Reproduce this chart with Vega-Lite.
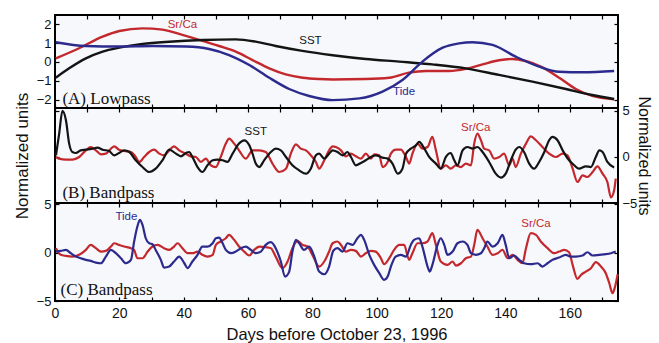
{
  "$schema": "https://vega.github.io/schema/vega-lite/v6.json",
  "padding": {"left": 12, "top": 13, "right": 2, "bottom": 0},
  "background": "white",
  "spacing": 0,
  "bounds": "flush",
  "config": {
    "concat": {"spacing": 0},
    "view": {"stroke": "#000", "strokeWidth": 2, "fill": "#f6f8fc"},
    "font": "Liberation Sans",
    "axis": {"domain": false, "grid": false, "tickColor": "#000", "tickSize": 4, "offset": -4, "tickWidth": 1.2, "labelFont": "Liberation Sans", "labelFontSize": 13, "labelColor": "#111", "labelPadding": 4, "titleFont": "Liberation Sans", "titleFontWeight": "normal", "titleColor": "#111", "labelFlush": false, "minExtent": 0}
  },
  "datasets": {
    "A": [
      {"d":0.25,"v":0.19,"s":"Sr/Ca"},{"d":7.5,"v":0.73,"s":"Sr/Ca"},{"d":14.8,"v":1.35,"s":"Sr/Ca"},{"d":20,"v":1.65,"s":"Sr/Ca"},{"d":27.2,"v":1.79,"s":"Sr/Ca"},{"d":33.4,"v":1.72,"s":"Sr/Ca"},{"d":39.6,"v":1.44,"s":"Sr/Ca"},{"d":45.9,"v":1.12,"s":"Sr/Ca"},{"d":51,"v":0.85,"s":"Sr/Ca"},{"d":56.2,"v":0.55,"s":"Sr/Ca"},{"d":61.4,"v":0.1,"s":"Sr/Ca"},{"d":66.6,"v":-0.34,"s":"Sr/Ca"},{"d":71.7,"v":-0.66,"s":"Sr/Ca"},{"d":77,"v":-0.84,"s":"Sr/Ca"},{"d":82,"v":-0.91,"s":"Sr/Ca"},{"d":86.3,"v":-0.93,"s":"Sr/Ca"},{"d":96.6,"v":-0.91,"s":"Sr/Ca"},{"d":103.9,"v":-0.84,"s":"Sr/Ca"},{"d":110,"v":-0.57,"s":"Sr/Ca"},{"d":115.3,"v":-0.48,"s":"Sr/Ca"},{"d":122.5,"v":-0.48,"s":"Sr/Ca"},{"d":127.7,"v":-0.37,"s":"Sr/Ca"},{"d":132.9,"v":-0.13,"s":"Sr/Ca"},{"d":138,"v":0.09,"s":"Sr/Ca"},{"d":142.2,"v":0.16,"s":"Sr/Ca"},{"d":146.3,"v":0.05,"s":"Sr/Ca"},{"d":151.5,"v":-0.29,"s":"Sr/Ca"},{"d":156.7,"v":-0.84,"s":"Sr/Ca"},{"d":161.9,"v":-1.44,"s":"Sr/Ca"},{"d":167,"v":-1.81,"s":"Sr/Ca"},{"d":173.8,"v":-1.99,"s":"Sr/Ca"},
      {"d":0.25,"v":-0.84,"s":"SST"},{"d":4.4,"v":-0.34,"s":"SST"},{"d":9.6,"v":0.19,"s":"SST"},{"d":14.8,"v":0.55,"s":"SST"},{"d":20,"v":0.76,"s":"SST"},{"d":27.2,"v":0.96,"s":"SST"},{"d":35.5,"v":1.08,"s":"SST"},{"d":45.9,"v":1.17,"s":"SST"},{"d":56.2,"v":1.2,"s":"SST"},{"d":62.4,"v":1.08,"s":"SST"},{"d":68.6,"v":0.85,"s":"SST"},{"d":76.9,"v":0.59,"s":"SST"},{"d":86.3,"v":0.36,"s":"SST"},{"d":96.6,"v":0.16,"s":"SST"},{"d":107,"v":0.02,"s":"SST"},{"d":117.3,"v":-0.13,"s":"SST"},{"d":127.7,"v":-0.34,"s":"SST"},{"d":138,"v":-0.69,"s":"SST"},{"d":148.4,"v":-1.05,"s":"SST"},{"d":158.8,"v":-1.44,"s":"SST"},{"d":167,"v":-1.76,"s":"SST"},{"d":173.8,"v":-1.97,"s":"SST"},
      {"d":0.25,"v":1.05,"s":"Tide"},{"d":9.6,"v":0.85,"s":"Tide"},{"d":20,"v":0.82,"s":"Tide"},{"d":30.3,"v":0.85,"s":"Tide"},{"d":40.7,"v":0.82,"s":"Tide"},{"d":47.9,"v":0.69,"s":"Tide"},{"d":54.1,"v":0.37,"s":"Tide"},{"d":60.4,"v":-0.16,"s":"Tide"},{"d":66.6,"v":-0.84,"s":"Tide"},{"d":72.8,"v":-1.44,"s":"Tide"},{"d":79,"v":-1.81,"s":"Tide"},{"d":86.3,"v":-2.03,"s":"Tide"},{"d":94.6,"v":-1.94,"s":"Tide"},{"d":101.8,"v":-1.58,"s":"Tide"},{"d":108,"v":-0.96,"s":"Tide"},{"d":114.2,"v":0.02,"s":"Tide"},{"d":120.5,"v":0.76,"s":"Tide"},{"d":125.6,"v":0.99,"s":"Tide"},{"d":129.8,"v":1.05,"s":"Tide"},{"d":136,"v":0.91,"s":"Tide"},{"d":143.2,"v":0.28,"s":"Tide"},{"d":150.5,"v":-0.25,"s":"Tide"},{"d":156.7,"v":-0.52,"s":"Tide"},{"d":164,"v":-0.55,"s":"Tide"},{"d":173.8,"v":-0.48,"s":"Tide"}
    ],
    "B": [
      {"d":0.3,"v":-0.01,"s":"Sr/Ca"},{"d":1.3,"v":-0.19,"s":"Sr/Ca"},{"d":3.4,"v":-0.3,"s":"Sr/Ca"},{"d":5.4,"v":-0.3,"s":"Sr/Ca"},{"d":7.5,"v":-0.01,"s":"Sr/Ca"},{"d":9.6,"v":0.71,"s":"Sr/Ca"},{"d":11.1,"v":1.07,"s":"Sr/Ca"},{"d":12.7,"v":0.71,"s":"Sr/Ca"},{"d":14.3,"v":0.28,"s":"Sr/Ca"},{"d":15.8,"v":0.35,"s":"Sr/Ca"},{"d":17.4,"v":0.89,"s":"Sr/Ca"},{"d":18.4,"v":1.15,"s":"Sr/Ca"},{"d":19.9,"v":0.78,"s":"Sr/Ca"},{"d":21.5,"v":0.64,"s":"Sr/Ca"},{"d":23.6,"v":0.53,"s":"Sr/Ca"},{"d":25.1,"v":-0.01,"s":"Sr/Ca"},{"d":26.2,"v":-0.55,"s":"Sr/Ca"},{"d":27.7,"v":-0.01,"s":"Sr/Ca"},{"d":29.3,"v":0.53,"s":"Sr/Ca"},{"d":30.8,"v":0.78,"s":"Sr/Ca"},{"d":32.4,"v":0.35,"s":"Sr/Ca"},{"d":33.9,"v":0.17,"s":"Sr/Ca"},{"d":35.5,"v":0.71,"s":"Sr/Ca"},{"d":37,"v":1.15,"s":"Sr/Ca"},{"d":38.6,"v":0.71,"s":"Sr/Ca"},{"d":40.7,"v":0.35,"s":"Sr/Ca"},{"d":42.2,"v":0.06,"s":"Sr/Ca"},{"d":43.8,"v":-0.01,"s":"Sr/Ca"},{"d":45.3,"v":-0.55,"s":"Sr/Ca"},{"d":46.9,"v":-0.19,"s":"Sr/Ca"},{"d":48.4,"v":-0.91,"s":"Sr/Ca"},{"d":50,"v":-1.1,"s":"Sr/Ca"},{"d":51.5,"v":-0.01,"s":"Sr/Ca"},{"d":53.1,"v":1.44,"s":"Sr/Ca"},{"d":54.1,"v":1.98,"s":"Sr/Ca"},{"d":55.7,"v":1.44,"s":"Sr/Ca"},{"d":57.2,"v":0.71,"s":"Sr/Ca"},{"d":59.3,"v":-0.19,"s":"Sr/Ca"},{"d":61.4,"v":0.71,"s":"Sr/Ca"},{"d":63.5,"v":0.71,"s":"Sr/Ca"},{"d":65.5,"v":0.53,"s":"Sr/Ca"},{"d":67.6,"v":-0.73,"s":"Sr/Ca"},{"d":69.7,"v":-1.64,"s":"Sr/Ca"},{"d":71.8,"v":-1.28,"s":"Sr/Ca"},{"d":73.3,"v":0.35,"s":"Sr/Ca"},{"d":74.9,"v":1.36,"s":"Sr/Ca"},{"d":76.4,"v":0.89,"s":"Sr/Ca"},{"d":78,"v":0.71,"s":"Sr/Ca"},{"d":79.5,"v":0.17,"s":"Sr/Ca"},{"d":81.1,"v":-0.55,"s":"Sr/Ca"},{"d":82.1,"v":-1.28,"s":"Sr/Ca"},{"d":83.7,"v":-0.37,"s":"Sr/Ca"},{"d":85.2,"v":0.71,"s":"Sr/Ca"},{"d":86.3,"v":1.15,"s":"Sr/Ca"},{"d":87.3,"v":1.07,"s":"Sr/Ca"},{"d":88.9,"v":0.71,"s":"Sr/Ca"},{"d":90.4,"v":0.06,"s":"Sr/Ca"},{"d":92,"v":0.35,"s":"Sr/Ca"},{"d":93.5,"v":0.06,"s":"Sr/Ca"},{"d":95.1,"v":-0.19,"s":"Sr/Ca"},{"d":96.6,"v":0.35,"s":"Sr/Ca"},{"d":98.2,"v":-0.19,"s":"Sr/Ca"},{"d":99.2,"v":0.28,"s":"Sr/Ca"},{"d":100.8,"v":0.17,"s":"Sr/Ca"},{"d":101.8,"v":-1.1,"s":"Sr/Ca"},{"d":103.4,"v":-0.55,"s":"Sr/Ca"},{"d":104.4,"v":0.35,"s":"Sr/Ca"},{"d":106,"v":0.78,"s":"Sr/Ca"},{"d":107.5,"v":0.78,"s":"Sr/Ca"},{"d":109.1,"v":-0.01,"s":"Sr/Ca"},{"d":110.1,"v":-0.73,"s":"Sr/Ca"},{"d":111.1,"v":0.35,"s":"Sr/Ca"},{"d":112.7,"v":1.44,"s":"Sr/Ca"},{"d":114.2,"v":0.89,"s":"Sr/Ca"},{"d":115.8,"v":1.07,"s":"Sr/Ca"},{"d":117.3,"v":2.16,"s":"Sr/Ca"},{"d":118.4,"v":0.71,"s":"Sr/Ca"},{"d":119.9,"v":-1.28,"s":"Sr/Ca"},{"d":121.5,"v":-0.91,"s":"Sr/Ca"},{"d":123,"v":-1.28,"s":"Sr/Ca"},{"d":124.6,"v":-0.91,"s":"Sr/Ca"},{"d":126.2,"v":-1.1,"s":"Sr/Ca"},{"d":127.7,"v":-0.73,"s":"Sr/Ca"},{"d":129.3,"v":-0.91,"s":"Sr/Ca"},{"d":130.3,"v":1.44,"s":"Sr/Ca"},{"d":131.3,"v":2.52,"s":"Sr/Ca"},{"d":132.4,"v":1.8,"s":"Sr/Ca"},{"d":133.4,"v":0.89,"s":"Sr/Ca"},{"d":134.95,"v":0.71,"s":"Sr/Ca"},{"d":136.5,"v":-0.19,"s":"Sr/Ca"},{"d":138.1,"v":-0.01,"s":"Sr/Ca"},{"d":139.6,"v":0.35,"s":"Sr/Ca"},{"d":141.2,"v":-0.91,"s":"Sr/Ca"},{"d":142.2,"v":-0.19,"s":"Sr/Ca"},{"d":143.2,"v":-1.1,"s":"Sr/Ca"},{"d":144.8,"v":0.35,"s":"Sr/Ca"},{"d":146.4,"v":1.44,"s":"Sr/Ca"},{"d":147.9,"v":2.23,"s":"Sr/Ca"},{"d":149.5,"v":1.8,"s":"Sr/Ca"},{"d":151.5,"v":1.07,"s":"Sr/Ca"},{"d":153.6,"v":0.35,"s":"Sr/Ca"},{"d":155.7,"v":-0.01,"s":"Sr/Ca"},{"d":157.8,"v":0.35,"s":"Sr/Ca"},{"d":159.3,"v":0.17,"s":"Sr/Ca"},{"d":160.9,"v":-1.28,"s":"Sr/Ca"},{"d":162.4,"v":-2.72,"s":"Sr/Ca"},{"d":164,"v":-2.0,"s":"Sr/Ca"},{"d":165.5,"v":-2.18,"s":"Sr/Ca"},{"d":167.1,"v":-1.64,"s":"Sr/Ca"},{"d":168.6,"v":-1.02,"s":"Sr/Ca"},{"d":170.2,"v":-1.82,"s":"Sr/Ca"},{"d":171.7,"v":-2.72,"s":"Sr/Ca"},{"d":172.8,"v":-4.4,"s":"Sr/Ca"},{"d":173.8,"v":-3.63,"s":"Sr/Ca"},{"d":174.3,"v":-2.36,"s":"Sr/Ca"},
      {"d":0.3,"v":0.17,"s":"SST"},{"d":1.3,"v":2.52,"s":"SST"},{"d":2.3,"v":4.98,"s":"SST"},{"d":3.4,"v":3.97,"s":"SST"},{"d":4.4,"v":1.44,"s":"SST"},{"d":5.4,"v":0.53,"s":"SST"},{"d":6.5,"v":0.42,"s":"SST"},{"d":8,"v":0.71,"s":"SST"},{"d":9.6,"v":0.78,"s":"SST"},{"d":11.7,"v":0.89,"s":"SST"},{"d":13.2,"v":1.0,"s":"SST"},{"d":14.8,"v":0.78,"s":"SST"},{"d":16.8,"v":0.64,"s":"SST"},{"d":18.4,"v":0.17,"s":"SST"},{"d":19.9,"v":0.42,"s":"SST"},{"d":21.5,"v":0.71,"s":"SST"},{"d":23.1,"v":0.53,"s":"SST"},{"d":25.1,"v":-0.37,"s":"SST"},{"d":27.2,"v":-1.1,"s":"SST"},{"d":29.3,"v":-1.64,"s":"SST"},{"d":31.3,"v":-1.28,"s":"SST"},{"d":33.4,"v":-0.37,"s":"SST"},{"d":35.5,"v":0.78,"s":"SST"},{"d":37.6,"v":0.35,"s":"SST"},{"d":39.1,"v":0.06,"s":"SST"},{"d":40.7,"v":0.42,"s":"SST"},{"d":41.7,"v":0.53,"s":"SST"},{"d":42.7,"v":-0.01,"s":"SST"},{"d":44.3,"v":-1.1,"s":"SST"},{"d":45.8,"v":-1.64,"s":"SST"},{"d":47.4,"v":-0.91,"s":"SST"},{"d":49,"v":-0.37,"s":"SST"},{"d":50.5,"v":-0.3,"s":"SST"},{"d":52.1,"v":-0.37,"s":"SST"},{"d":53.6,"v":-0.55,"s":"SST"},{"d":55.2,"v":0.35,"s":"SST"},{"d":57.2,"v":1.44,"s":"SST"},{"d":58.8,"v":1.8,"s":"SST"},{"d":60.4,"v":1.25,"s":"SST"},{"d":61.4,"v":0.35,"s":"SST"},{"d":62.4,"v":-0.73,"s":"SST"},{"d":63.5,"v":-1.1,"s":"SST"},{"d":65,"v":-0.37,"s":"SST"},{"d":67.1,"v":0.53,"s":"SST"},{"d":68.6,"v":0.89,"s":"SST"},{"d":70.2,"v":0.71,"s":"SST"},{"d":71.8,"v":-0.01,"s":"SST"},{"d":73.8,"v":-0.91,"s":"SST"},{"d":75.9,"v":-1.46,"s":"SST"},{"d":78,"v":-1.82,"s":"SST"},{"d":79.5,"v":-1.28,"s":"SST"},{"d":81.1,"v":0.17,"s":"SST"},{"d":82.1,"v":0.35,"s":"SST"},{"d":83.7,"v":-0.19,"s":"SST"},{"d":85.2,"v":0.35,"s":"SST"},{"d":86.3,"v":0.71,"s":"SST"},{"d":87.8,"v":0.53,"s":"SST"},{"d":89.4,"v":0.17,"s":"SST"},{"d":90.9,"v":0.53,"s":"SST"},{"d":92,"v":-0.01,"s":"SST"},{"d":93.5,"v":-0.91,"s":"SST"},{"d":95.1,"v":-0.66,"s":"SST"},{"d":96.6,"v":-0.37,"s":"SST"},{"d":98.2,"v":-0.01,"s":"SST"},{"d":99.7,"v":0.17,"s":"SST"},{"d":101.8,"v":-0.08,"s":"SST"},{"d":103.4,"v":-0.19,"s":"SST"},{"d":104.9,"v":-0.73,"s":"SST"},{"d":106.5,"v":-1.82,"s":"SST"},{"d":108,"v":-1.28,"s":"SST"},{"d":109.1,"v":0.35,"s":"SST"},{"d":110.6,"v":0.89,"s":"SST"},{"d":112.2,"v":1.25,"s":"SST"},{"d":113.2,"v":1.62,"s":"SST"},{"d":114.8,"v":0.89,"s":"SST"},{"d":116.3,"v":-0.01,"s":"SST"},{"d":118.4,"v":-0.73,"s":"SST"},{"d":119.9,"v":-1.28,"s":"SST"},{"d":121.5,"v":-0.01,"s":"SST"},{"d":123,"v":0.42,"s":"SST"},{"d":124.1,"v":-0.37,"s":"SST"},{"d":125.1,"v":-0.91,"s":"SST"},{"d":126.7,"v":0.71,"s":"SST"},{"d":128.2,"v":1.07,"s":"SST"},{"d":129.8,"v":0.89,"s":"SST"},{"d":131.3,"v":1.07,"s":"SST"},{"d":132.9,"v":0.53,"s":"SST"},{"d":134.95,"v":-0.55,"s":"SST"},{"d":137,"v":-1.82,"s":"SST"},{"d":138.6,"v":-2.25,"s":"SST"},{"d":140.1,"v":-1.82,"s":"SST"},{"d":141.7,"v":-0.37,"s":"SST"},{"d":143.2,"v":0.78,"s":"SST"},{"d":144.3,"v":1.07,"s":"SST"},{"d":145.8,"v":0.53,"s":"SST"},{"d":147.4,"v":-0.73,"s":"SST"},{"d":148.9,"v":-1.28,"s":"SST"},{"d":150.5,"v":-0.55,"s":"SST"},{"d":152.1,"v":0.53,"s":"SST"},{"d":153.6,"v":1.8,"s":"SST"},{"d":154.6,"v":2.16,"s":"SST"},{"d":156.2,"v":1.8,"s":"SST"},{"d":157.8,"v":0.71,"s":"SST"},{"d":159.8,"v":-0.37,"s":"SST"},{"d":161.4,"v":-0.91,"s":"SST"},{"d":162.9,"v":-1.28,"s":"SST"},{"d":165,"v":-1.02,"s":"SST"},{"d":166.6,"v":-1.1,"s":"SST"},{"d":168.1,"v":-0.01,"s":"SST"},{"d":169.2,"v":0.71,"s":"SST"},{"d":170.2,"v":0.53,"s":"SST"},{"d":171.7,"v":-0.55,"s":"SST"},{"d":173.8,"v":-1.15,"s":"SST"}
    ],
    "C": [
      {"d":0.3,"v":0.47,"s":"Sr/Ca"},{"d":1.8,"v":-0.22,"s":"Sr/Ca"},{"d":3.4,"v":-0.33,"s":"Sr/Ca"},{"d":5.4,"v":-0.4,"s":"Sr/Ca"},{"d":7.5,"v":-0.22,"s":"Sr/Ca"},{"d":9.6,"v":0.29,"s":"Sr/Ca"},{"d":11.1,"v":0.81,"s":"Sr/Ca"},{"d":12.7,"v":0.47,"s":"Sr/Ca"},{"d":14.3,"v":0.12,"s":"Sr/Ca"},{"d":15.8,"v":0.19,"s":"Sr/Ca"},{"d":17.4,"v":0.64,"s":"Sr/Ca"},{"d":18.4,"v":0.98,"s":"Sr/Ca"},{"d":19.9,"v":0.81,"s":"Sr/Ca"},{"d":21.5,"v":0.64,"s":"Sr/Ca"},{"d":23.6,"v":0.47,"s":"Sr/Ca"},{"d":24.6,"v":0.29,"s":"Sr/Ca"},{"d":25.6,"v":-0.57,"s":"Sr/Ca"},{"d":27.2,"v":-0.57,"s":"Sr/Ca"},{"d":28.8,"v":0.12,"s":"Sr/Ca"},{"d":30.3,"v":0.64,"s":"Sr/Ca"},{"d":31.9,"v":0.81,"s":"Sr/Ca"},{"d":33.9,"v":0.47,"s":"Sr/Ca"},{"d":35.5,"v":0.29,"s":"Sr/Ca"},{"d":37,"v":0.64,"s":"Sr/Ca"},{"d":38.1,"v":0.98,"s":"Sr/Ca"},{"d":39.6,"v":0.47,"s":"Sr/Ca"},{"d":41.2,"v":-0.05,"s":"Sr/Ca"},{"d":42.7,"v":-0.05,"s":"Sr/Ca"},{"d":44.3,"v":0.12,"s":"Sr/Ca"},{"d":45.8,"v":-0.22,"s":"Sr/Ca"},{"d":47.4,"v":-0.4,"s":"Sr/Ca"},{"d":49,"v":-0.22,"s":"Sr/Ca"},{"d":50,"v":0.81,"s":"Sr/Ca"},{"d":51.5,"v":1.16,"s":"Sr/Ca"},{"d":53.1,"v":1.5,"s":"Sr/Ca"},{"d":54.1,"v":1.85,"s":"Sr/Ca"},{"d":55.7,"v":1.33,"s":"Sr/Ca"},{"d":57.2,"v":0.64,"s":"Sr/Ca"},{"d":58.8,"v":0.12,"s":"Sr/Ca"},{"d":60.4,"v":-0.29,"s":"Sr/Ca"},{"d":61.9,"v":0.29,"s":"Sr/Ca"},{"d":63.5,"v":0.64,"s":"Sr/Ca"},{"d":65.5,"v":0.57,"s":"Sr/Ca"},{"d":67.1,"v":0.47,"s":"Sr/Ca"},{"d":68.6,"v":-0.4,"s":"Sr/Ca"},{"d":70.7,"v":-1.6,"s":"Sr/Ca"},{"d":72.3,"v":-0.91,"s":"Sr/Ca"},{"d":73.8,"v":0.47,"s":"Sr/Ca"},{"d":75.4,"v":1.23,"s":"Sr/Ca"},{"d":76.9,"v":0.81,"s":"Sr/Ca"},{"d":78.5,"v":0.64,"s":"Sr/Ca"},{"d":80,"v":-0.22,"s":"Sr/Ca"},{"d":82.1,"v":-1.43,"s":"Sr/Ca"},{"d":83.7,"v":-0.91,"s":"Sr/Ca"},{"d":85.2,"v":0.12,"s":"Sr/Ca"},{"d":86.3,"v":0.98,"s":"Sr/Ca"},{"d":87.8,"v":1.16,"s":"Sr/Ca"},{"d":88.9,"v":0.81,"s":"Sr/Ca"},{"d":90.4,"v":0.12,"s":"Sr/Ca"},{"d":92,"v":0.29,"s":"Sr/Ca"},{"d":93.5,"v":0.19,"s":"Sr/Ca"},{"d":95.1,"v":-0.4,"s":"Sr/Ca"},{"d":96.6,"v":-0.05,"s":"Sr/Ca"},{"d":98.2,"v":0.19,"s":"Sr/Ca"},{"d":99.7,"v":0.12,"s":"Sr/Ca"},{"d":101.3,"v":-0.57,"s":"Sr/Ca"},{"d":102.3,"v":-1.19,"s":"Sr/Ca"},{"d":103.9,"v":-0.57,"s":"Sr/Ca"},{"d":105.4,"v":0.29,"s":"Sr/Ca"},{"d":107,"v":0.81,"s":"Sr/Ca"},{"d":108.5,"v":0.81,"s":"Sr/Ca"},{"d":110.1,"v":-0.74,"s":"Sr/Ca"},{"d":111.1,"v":-0.05,"s":"Sr/Ca"},{"d":112.7,"v":0.98,"s":"Sr/Ca"},{"d":114.2,"v":0.98,"s":"Sr/Ca"},{"d":115.8,"v":1.16,"s":"Sr/Ca"},{"d":117.3,"v":2.02,"s":"Sr/Ca"},{"d":118.4,"v":0.81,"s":"Sr/Ca"},{"d":119.9,"v":-0.91,"s":"Sr/Ca"},{"d":122,"v":-1.26,"s":"Sr/Ca"},{"d":123.6,"v":-0.91,"s":"Sr/Ca"},{"d":124.6,"v":-1.33,"s":"Sr/Ca"},{"d":126.2,"v":-1.09,"s":"Sr/Ca"},{"d":127.7,"v":-0.57,"s":"Sr/Ca"},{"d":129.3,"v":-0.4,"s":"Sr/Ca"},{"d":130.3,"v":0.81,"s":"Sr/Ca"},{"d":131.3,"v":2.37,"s":"Sr/Ca"},{"d":132.9,"v":1.5,"s":"Sr/Ca"},{"d":134.4,"v":0.64,"s":"Sr/Ca"},{"d":136,"v":-0.22,"s":"Sr/Ca"},{"d":137.6,"v":-0.05,"s":"Sr/Ca"},{"d":139.1,"v":0.29,"s":"Sr/Ca"},{"d":140.7,"v":-0.57,"s":"Sr/Ca"},{"d":142.2,"v":-0.22,"s":"Sr/Ca"},{"d":143.8,"v":-0.74,"s":"Sr/Ca"},{"d":145.3,"v":-1.09,"s":"Sr/Ca"},{"d":146.4,"v":0.47,"s":"Sr/Ca"},{"d":147.9,"v":2.02,"s":"Sr/Ca"},{"d":149.5,"v":1.85,"s":"Sr/Ca"},{"d":151,"v":1.16,"s":"Sr/Ca"},{"d":153.1,"v":0.47,"s":"Sr/Ca"},{"d":155.2,"v":-0.05,"s":"Sr/Ca"},{"d":156.7,"v":0.12,"s":"Sr/Ca"},{"d":158.3,"v":0.29,"s":"Sr/Ca"},{"d":159.8,"v":0.05,"s":"Sr/Ca"},{"d":160.9,"v":-1.26,"s":"Sr/Ca"},{"d":162.4,"v":-2.71,"s":"Sr/Ca"},{"d":163.5,"v":-2.3,"s":"Sr/Ca"},{"d":165,"v":-1.95,"s":"Sr/Ca"},{"d":166.6,"v":-1.6,"s":"Sr/Ca"},{"d":168.1,"v":-0.98,"s":"Sr/Ca"},{"d":169.7,"v":-1.43,"s":"Sr/Ca"},{"d":171.2,"v":-2.12,"s":"Sr/Ca"},{"d":172.3,"v":-3.16,"s":"Sr/Ca"},{"d":173.3,"v":-4.19,"s":"Sr/Ca"},{"d":174.1,"v":-3.5,"s":"Sr/Ca"},{"d":174.9,"v":-2.23,"s":"Sr/Ca"},
      {"d":0.3,"v":0.12,"s":"Tide"},{"d":1.8,"v":0.19,"s":"Tide"},{"d":3.4,"v":0.29,"s":"Tide"},{"d":4.9,"v":-0.05,"s":"Tide"},{"d":6.5,"v":-0.4,"s":"Tide"},{"d":8,"v":-0.57,"s":"Tide"},{"d":9.6,"v":-0.74,"s":"Tide"},{"d":11.1,"v":-0.85,"s":"Tide"},{"d":12.7,"v":-1.02,"s":"Tide"},{"d":14.3,"v":-1.09,"s":"Tide"},{"d":15.8,"v":-0.4,"s":"Tide"},{"d":17.4,"v":0.29,"s":"Tide"},{"d":18.9,"v":-0.05,"s":"Tide"},{"d":20.5,"v":-0.57,"s":"Tide"},{"d":22,"v":-1.09,"s":"Tide"},{"d":23.6,"v":-0.74,"s":"Tide"},{"d":24.6,"v":1.16,"s":"Tide"},{"d":25.6,"v":2.71,"s":"Tide"},{"d":26.4,"v":3.4,"s":"Tide"},{"d":27.2,"v":2.88,"s":"Tide"},{"d":28.2,"v":1.5,"s":"Tide"},{"d":29.3,"v":0.98,"s":"Tide"},{"d":30.3,"v":0.88,"s":"Tide"},{"d":31.3,"v":0.29,"s":"Tide"},{"d":32.9,"v":-0.74,"s":"Tide"},{"d":33.9,"v":-1.54,"s":"Tide"},{"d":35.5,"v":-1.43,"s":"Tide"},{"d":37,"v":-0.91,"s":"Tide"},{"d":38.6,"v":-0.4,"s":"Tide"},{"d":40.2,"v":-1.09,"s":"Tide"},{"d":41.2,"v":-1.6,"s":"Tide"},{"d":42.7,"v":-0.91,"s":"Tide"},{"d":44.3,"v":-0.22,"s":"Tide"},{"d":45.8,"v":0.64,"s":"Tide"},{"d":47.4,"v":0.64,"s":"Tide"},{"d":49,"v":0.98,"s":"Tide"},{"d":50,"v":1.5,"s":"Tide"},{"d":51,"v":1.57,"s":"Tide"},{"d":52.1,"v":0.98,"s":"Tide"},{"d":53.1,"v":0.29,"s":"Tide"},{"d":54.7,"v":-0.05,"s":"Tide"},{"d":56.2,"v":0.12,"s":"Tide"},{"d":57.8,"v":0.47,"s":"Tide"},{"d":59.3,"v":0.64,"s":"Tide"},{"d":60.9,"v":0.29,"s":"Tide"},{"d":62.4,"v":-0.05,"s":"Tide"},{"d":64,"v":0.12,"s":"Tide"},{"d":65.5,"v":0.81,"s":"Tide"},{"d":67.1,"v":1.09,"s":"Tide"},{"d":68.6,"v":0.47,"s":"Tide"},{"d":70.2,"v":-0.91,"s":"Tide"},{"d":71.5,"v":-2.47,"s":"Tide"},{"d":72.8,"v":-1.95,"s":"Tide"},{"d":73.8,"v":0.12,"s":"Tide"},{"d":74.9,"v":1.33,"s":"Tide"},{"d":75.9,"v":0.98,"s":"Tide"},{"d":77.4,"v":0.29,"s":"Tide"},{"d":79,"v":0.64,"s":"Tide"},{"d":80.6,"v":-0.4,"s":"Tide"},{"d":82.1,"v":-1.95,"s":"Tide"},{"d":83.7,"v":-2.23,"s":"Tide"},{"d":85.2,"v":-1.43,"s":"Tide"},{"d":86.5,"v":0.2,"s":"Tide"},{"d":87.8,"v":0.47,"s":"Tide"},{"d":89.4,"v":0.12,"s":"Tide"},{"d":90.9,"v":0.98,"s":"Tide"},{"d":92.5,"v":0.81,"s":"Tide"},{"d":94,"v":1.5,"s":"Tide"},{"d":95.1,"v":1.85,"s":"Tide"},{"d":96.1,"v":1.33,"s":"Tide"},{"d":97.7,"v":-0.22,"s":"Tide"},{"d":99.2,"v":-1.26,"s":"Tide"},{"d":100.8,"v":-2.12,"s":"Tide"},{"d":102.3,"v":-2.81,"s":"Tide"},{"d":103.4,"v":-2.47,"s":"Tide"},{"d":104.4,"v":-1.43,"s":"Tide"},{"d":105.9,"v":-0.4,"s":"Tide"},{"d":107.5,"v":-0.22,"s":"Tide"},{"d":109.1,"v":-0.4,"s":"Tide"},{"d":110.6,"v":0.81,"s":"Tide"},{"d":111.6,"v":1.33,"s":"Tide"},{"d":113.2,"v":1.5,"s":"Tide"},{"d":114.2,"v":0.64,"s":"Tide"},{"d":115.8,"v":-1.43,"s":"Tide"},{"d":116.5,"v":-1.95,"s":"Tide"},{"d":117.3,"v":-1.26,"s":"Tide"},{"d":118.9,"v":0.81,"s":"Tide"},{"d":119.9,"v":1.5,"s":"Tide"},{"d":121,"v":0.81,"s":"Tide"},{"d":122,"v":-0.22,"s":"Tide"},{"d":123.6,"v":0.12,"s":"Tide"},{"d":125.1,"v":0.98,"s":"Tide"},{"d":126.7,"v":1.16,"s":"Tide"},{"d":128.2,"v":0.81,"s":"Tide"},{"d":129.3,"v":-0.05,"s":"Tide"},{"d":130.8,"v":-0.22,"s":"Tide"},{"d":132.4,"v":-0.05,"s":"Tide"},{"d":133.4,"v":0.47,"s":"Tide"},{"d":134.4,"v":1.16,"s":"Tide"},{"d":136,"v":0.64,"s":"Tide"},{"d":137.6,"v":0.98,"s":"Tide"},{"d":139.1,"v":1.85,"s":"Tide"},{"d":140.1,"v":0.81,"s":"Tide"},{"d":141.2,"v":-0.57,"s":"Tide"},{"d":142.7,"v":-0.29,"s":"Tide"},{"d":144.3,"v":-0.74,"s":"Tide"},{"d":145.8,"v":-1.09,"s":"Tide"},{"d":147.9,"v":-1.19,"s":"Tide"},{"d":150,"v":-1.09,"s":"Tide"},{"d":151.5,"v":-1.43,"s":"Tide"},{"d":153.1,"v":-1.09,"s":"Tide"},{"d":154.6,"v":-0.74,"s":"Tide"},{"d":156.7,"v":-0.5,"s":"Tide"},{"d":158.8,"v":-0.22,"s":"Tide"},{"d":160.3,"v":-0.4,"s":"Tide"},{"d":161.9,"v":-0.4,"s":"Tide"},{"d":164,"v":-0.29,"s":"Tide"},{"d":165.5,"v":0.05,"s":"Tide"},{"d":167.1,"v":-0.29,"s":"Tide"},{"d":169.2,"v":-0.22,"s":"Tide"},{"d":171.2,"v":-0.15,"s":"Tide"},{"d":172.8,"v":-0.05,"s":"Tide"},{"d":174.3,"v":0.12,"s":"Tide"}
    ],
    "labA": [{"d":39.6,"v":1.97,"t":"Sr/Ca","s":"Sr/Ca"},{"d":79.4,"v":1.11,"t":"SST","s":"SST"},{"d":108.5,"v":-1.58,"t":"Tide","s":"Tide"}],
    "labB": [{"d":62.4,"v":2.7,"t":"SST","s":"SST"},{"d":130.8,"v":3.17,"t":"Sr/Ca","s":"Sr/Ca"}],
    "labC": [{"d":22.2,"v":3.65,"t":"Tide","s":"Tide"},{"d":149.5,"v":2.95,"t":"Sr/Ca","s":"Sr/Ca"}],
    "panA": [{"d":2.3,"v":-1.98,"t":"(A) Lowpass"}],
    "panB": [{"d":2.3,"v":-3.95,"t":"(B) Bandpass"}],
    "panC": [{"d":1.7,"v":-3.9,"t":"(C) Bandpass"}]
  },
  "vconcat": [
    {
      "width": 563, "height": 93,
      "data": {"name": "A"},
      "layer": [
        {"mark": {"type": "line", "strokeWidth": 2.4, "interpolate": "monotone"},
         "encoding": {
           "x": {"field": "d", "type": "quantitative", "scale": {"domain": [0, 175], "nice": false, "zero": false}, "axis": {"orient": "bottom", "values": [0,10,20,30,40,50,60,70,80,90,100,110,120,130,140,150,160,170], "labels": false, "title": null}},
           "y": {"field": "v", "type": "quantitative", "scale": {"domain": [-2.45, 2.5], "nice": false, "zero": false}, "axis": {"orient": "left", "values": [-2,-1,0,1,2], "title": null}},
           "color": {"field": "s", "type": "nominal", "scale": {"domain": ["Sr/Ca","SST","Tide"], "range": ["#c3282d","#141414","#2c2a8c"]}, "legend": null}
         }},
        {"mark": {"type": "line", "strokeOpacity": 0},
         "encoding": {
           "x": {"field": "d", "type": "quantitative", "scale": {"domain": [0, 175], "nice": false, "zero": false}, "axis": {"orient": "top", "values": [0,10,20,30,40,50,60,70,80,90,100,110,120,130,140,150,160,170], "labels": false, "title": null}},
           "y": {"field": "v", "type": "quantitative", "scale": {"domain": [-2.45, 2.5], "nice": false, "zero": false}, "axis": {"orient": "right", "values": [-2,-1,0,1,2], "labels": false, "title": null}}
         }},
        {"data": {"name": "labA"}, "mark": {"type": "text", "fontSize": 11.5, "font": "Liberation Sans", "align": "center", "baseline": "middle"},
         "encoding": {
           "x": {"field": "d", "type": "quantitative", "scale": {"domain": [0, 175], "nice": false, "zero": false}, "axis": null},
           "y": {"field": "v", "type": "quantitative", "scale": {"domain": [-2.45, 2.5], "nice": false, "zero": false}, "axis": null},
           "text": {"field": "t"},
           "color": {"field": "s", "type": "nominal", "scale": {"domain": ["Sr/Ca","SST","Tide"], "range": ["#c3282d","#141414","#2c2a8c"]}, "legend": null}
         }},
        {"data": {"name": "panA"}, "mark": {"type": "text", "fontSize": 17, "font": "Liberation Serif", "align": "left", "baseline": "middle", "color": "#111"},
         "encoding": {
           "x": {"field": "d", "type": "quantitative", "scale": {"domain": [0, 175], "nice": false, "zero": false}, "axis": null},
           "y": {"field": "v", "type": "quantitative", "scale": {"domain": [-2.45, 2.5], "nice": false, "zero": false}, "axis": null},
           "text": {"field": "t"}
         }}
      ],
      "resolve": {"axis": {"x": "independent", "y": "independent"}}
    },
    {
      "width": 563, "height": 95,
      "data": {"name": "B"},
      "layer": [
        {"mark": {"type": "line", "strokeWidth": 2.2, "interpolate": "monotone"},
         "encoding": {
           "x": {"field": "d", "type": "quantitative", "scale": {"domain": [0, 175], "nice": false, "zero": false}, "axis": {"orient": "bottom", "values": [0,10,20,30,40,50,60,70,80,90,100,110,120,130,140,150,160,170], "labels": false, "title": null}},
           "y": {"field": "v", "type": "quantitative", "scale": {"domain": [-5, 5.3], "nice": false, "zero": false}, "axis": {"orient": "left", "values": [-5,0,5], "labels": false, "title": "Normalized units", "titleFontSize": 17, "titlePadding": 23}},
           "color": {"field": "s", "type": "nominal", "scale": {"domain": ["Sr/Ca","SST","Tide"], "range": ["#c3282d","#141414","#2c2a8c"]}, "legend": null}
         }},
        {"mark": {"type": "line", "strokeOpacity": 0},
         "encoding": {
           "x": {"field": "d", "type": "quantitative", "scale": {"domain": [0, 175], "nice": false, "zero": false}, "axis": {"orient": "top", "values": [0,10,20,30,40,50,60,70,80,90,100,110,120,130,140,150,160,170], "labels": false, "title": null}},
           "y": {"field": "v", "type": "quantitative", "scale": {"domain": [-5, 5.3], "nice": false, "zero": false}, "axis": {"orient": "right", "values": [-5,0,5], "title": "Normalized units", "titleFontSize": 16, "titlePadding": -1}}
         }},
        {"data": {"name": "labB"}, "mark": {"type": "text", "fontSize": 11.5, "font": "Liberation Sans", "align": "center", "baseline": "middle"},
         "encoding": {
           "x": {"field": "d", "type": "quantitative", "scale": {"domain": [0, 175], "nice": false, "zero": false}, "axis": null},
           "y": {"field": "v", "type": "quantitative", "scale": {"domain": [-5, 5.3], "nice": false, "zero": false}, "axis": null},
           "text": {"field": "t"},
           "color": {"field": "s", "type": "nominal", "scale": {"domain": ["Sr/Ca","SST","Tide"], "range": ["#c3282d","#141414","#2c2a8c"]}, "legend": null}
         }},
        {"data": {"name": "panB"}, "mark": {"type": "text", "fontSize": 17, "font": "Liberation Serif", "align": "left", "baseline": "middle", "color": "#111"},
         "encoding": {
           "x": {"field": "d", "type": "quantitative", "scale": {"domain": [0, 175], "nice": false, "zero": false}, "axis": null},
           "y": {"field": "v", "type": "quantitative", "scale": {"domain": [-5, 5.3], "nice": false, "zero": false}, "axis": null},
           "text": {"field": "t"}
         }}
      ],
      "resolve": {"axis": {"x": "independent", "y": "independent"}}
    },
    {
      "width": 563, "height": 98,
      "data": {"name": "C"},
      "layer": [
        {"mark": {"type": "line", "strokeWidth": 2.2, "interpolate": "monotone"},
         "encoding": {
           "x": {"field": "d", "type": "quantitative", "scale": {"domain": [0, 175], "nice": false, "zero": false}, "axis": {"orient": "bottom", "values": [0,10,20,30,40,50,60,70,80,90,100,110,120,130,140,150,160,170], "labelExpr": "datum.value % 20 === 0 ? datum.label : ''", "labelFontSize": 14, "labelPadding": 5, "title": "Days before October 23, 1996", "titleFontSize": 16.5, "titlePadding": 6}},
           "y": {"field": "v", "type": "quantitative", "scale": {"domain": [-5, 5.15], "nice": false, "zero": false}, "axis": {"orient": "left", "values": [-5,0,5], "title": null}},
           "color": {"field": "s", "type": "nominal", "scale": {"domain": ["Sr/Ca","SST","Tide"], "range": ["#c3282d","#141414","#2c2a8c"]}, "legend": null}
         }},
        {"mark": {"type": "line", "strokeOpacity": 0},
         "encoding": {
           "x": {"field": "d", "type": "quantitative", "scale": {"domain": [0, 175], "nice": false, "zero": false}, "axis": {"orient": "top", "values": [0,10,20,30,40,50,60,70,80,90,100,110,120,130,140,150,160,170], "labels": false, "title": null}},
           "y": {"field": "v", "type": "quantitative", "scale": {"domain": [-5, 5.15], "nice": false, "zero": false}, "axis": {"orient": "right", "values": [-5,0,5], "labels": false, "title": null}}
         }},
        {"data": {"name": "labC"}, "mark": {"type": "text", "fontSize": 11.5, "font": "Liberation Sans", "align": "center", "baseline": "middle"},
         "encoding": {
           "x": {"field": "d", "type": "quantitative", "scale": {"domain": [0, 175], "nice": false, "zero": false}, "axis": null},
           "y": {"field": "v", "type": "quantitative", "scale": {"domain": [-5, 5.15], "nice": false, "zero": false}, "axis": null},
           "text": {"field": "t"},
           "color": {"field": "s", "type": "nominal", "scale": {"domain": ["Sr/Ca","SST","Tide"], "range": ["#c3282d","#141414","#2c2a8c"]}, "legend": null}
         }},
        {"data": {"name": "panC"}, "mark": {"type": "text", "fontSize": 17, "font": "Liberation Serif", "align": "left", "baseline": "middle", "color": "#111"},
         "encoding": {
           "x": {"field": "d", "type": "quantitative", "scale": {"domain": [0, 175], "nice": false, "zero": false}, "axis": null},
           "y": {"field": "v", "type": "quantitative", "scale": {"domain": [-5, 5.15], "nice": false, "zero": false}, "axis": null},
           "text": {"field": "t"}
         }}
      ],
      "resolve": {"axis": {"x": "independent", "y": "independent"}}
    }
  ]
}
